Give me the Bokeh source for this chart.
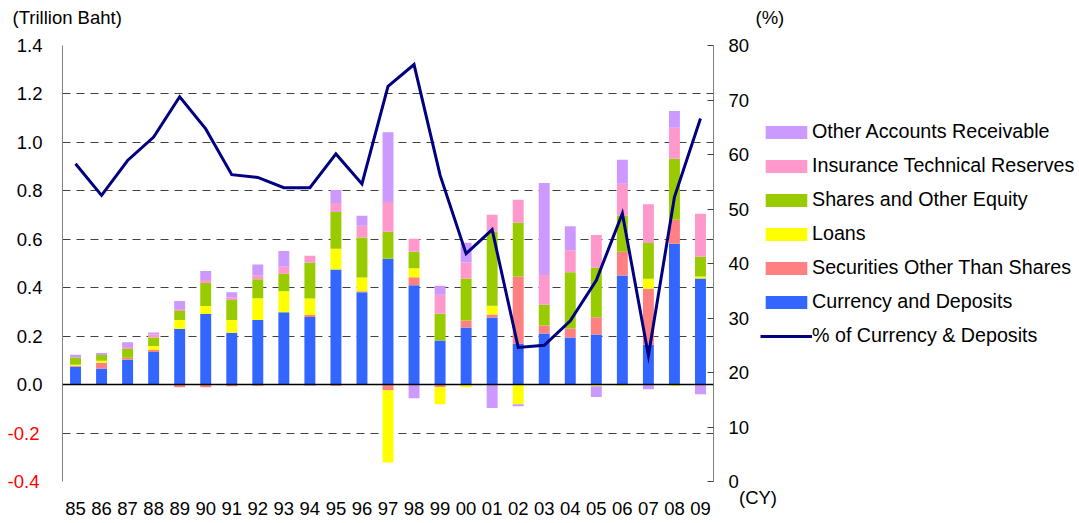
from bokeh.plotting import figure
from bokeh.layouts import row
from bokeh.models import (Range1d, LinearAxis, FixedTicker, Span, Label, Legend,
                          LegendItem, ColumnDataSource, FactorRange, NumeralTickFormatter)
from bokeh.embed import file_html
from bokeh.resources import INLINE

years = ["85", "86", "87", "88", "89", "90", "91", "92", "93", "94", "95", "96", "97",
         "98", "99", "00", "01", "02", "03", "04", "05", "06", "07", "08", "09"]

currency = [0.074, 0.066, 0.103, 0.135, 0.230, 0.292, 0.214, 0.267, 0.299, 0.279, 0.475, 0.381, 0.520,
            0.410, 0.182, 0.236, 0.277, 0.170, 0.211, 0.195, 0.207, 0.450, 0.166, 0.582, 0.438]
securities = [0.004, 0.024, 0.008, 0.008, -0.011, -0.011, -0.007, -0.005, 0.0, 0.008, -0.005, 0.004, -0.023,
              0.033, -0.011, 0.029, 0.012, 0.276, 0.033, 0.037, 0.071, 0.099, 0.230, 0.099, 0.0]
loans = [0.004, 0.008, 0.0, 0.016, 0.037, 0.033, 0.053, 0.090, 0.086, 0.069, 0.086, 0.057, -0.299,
         0.037, -0.070, -0.011, 0.037, -0.081, 0.0, 0.0, -0.007, -0.004, 0.041, -0.005, 0.008]
shares = [0.030, 0.024, 0.036, 0.036, 0.037, 0.095, 0.082, 0.078, 0.073, 0.147, 0.152, 0.165, 0.111,
          0.069, 0.111, 0.173, 0.305, 0.222, 0.086, 0.232, 0.204, 0.148, 0.148, 0.251, 0.082]
insurance = [0.0, 0.0, 0.008, 0.012, 0.008, 0.012, 0.012, 0.016, 0.029, 0.029, 0.037, 0.049, 0.123,
             0.053, 0.078, 0.066, 0.070, 0.095, 0.123, 0.091, 0.136, 0.132, 0.160, 0.128, 0.177]
other = [0.011, 0.008, 0.020, 0.008, 0.033, 0.037, 0.020, 0.045, 0.065, -0.005, 0.053, 0.041, 0.288,
         -0.056, 0.037, 0.082, -0.097, -0.008, 0.379, 0.099, -0.044, 0.099, -0.019, 0.070, -0.040]
pct_currency = [58.3, 52.5, 58.9, 63.2, 70.6, 64.7, 56.3, 55.8, 53.9, 53.9, 60.1, 54.6, 72.5,
                76.5, 56.2, 41.8, 46.2, 24.6, 25.0, 29.5, 36.9, 49.2, 23.1, 52.2, 66.6]

left_ticks = [0.0, 0.2, 0.4, 0.6, 0.8, 1.0, 1.2, 1.4]
neg_ticks = [-0.4, -0.2]
grid_ticks = [-0.4, -0.2, 0.0, 0.2, 0.4, 0.6, 0.8, 1.0, 1.2, 1.4]
right_ticks = [0, 10, 20, 30, 40, 50, 60, 70, 80]

series = [
    ("Currency and Deposits", currency, "#3366FF"),
    ("Securities Other Than Shares", securities, "#FF8080"),
    ("Loans", loans, "#FFFF00"),
    ("Shares and Other Equity", shares, "#99CC00"),
    ("Insurance Technical Reserves", insurance, "#FF99CC"),
    ("Other Accounts Receivable", other, "#CC99FF"),
]
line_name = "% of Currency & Deposits"
line_color = "#000080"

FONT = "Liberation Sans"
FS = "18.5px"

# ---------------- main chart ----------------
p = figure(x_range=FactorRange(factors=years, range_padding=0),
           y_range=Range1d(-0.4, 1.4),
           frame_width=651, frame_height=436,
           min_border_left=62, min_border_top=45, min_border_right=36, min_border_bottom=42,
           output_backend="svg", toolbar_location=None)
p.extra_y_ranges = {"pct": Range1d(0, 80)}
p.outline_line_color = None

pos = [0.0] * len(years)
neg = [0.0] * len(years)
for name, vals, color in series:
    bottoms, tops = [], []
    for i, v in enumerate(vals):
        if v >= 0:
            bottoms.append(pos[i]); tops.append(pos[i] + v); pos[i] += v
        else:
            tops.append(neg[i]); bottoms.append(neg[i] + v); neg[i] += v
    src = ColumnDataSource(dict(x=years, bottom=bottoms, top=tops))
    p.vbar(x="x", bottom="bottom", top="top", width=0.42, source=src,
           fill_color=color, line_color=None)

p.add_layout(Span(location=0, dimension="width", line_color="black", line_width=1.5))

p.line(x=years, y=pct_currency, y_range_name="pct", line_color=line_color,
       line_width=3, line_join="miter")

xa = p.xaxis[0]
xa.axis_line_color = None
xa.major_tick_line_color = None
xa.minor_tick_line_color = None
xa.major_label_standoff = 14
xa.major_label_text_font = FONT
xa.major_label_text_font_size = FS
xa.major_label_text_color = "black"

ya = p.yaxis[0]
ya.ticker = FixedTicker(ticks=left_ticks)
ya.formatter = NumeralTickFormatter(format="0.0")
ya.axis_line_color = "#808080"
ya.major_tick_line_color = None
ya.minor_tick_line_color = None
ya.major_tick_out = 0
ya.major_label_standoff = 20
ya.major_label_text_font = FONT
ya.major_label_text_font_size = FS
ya.major_label_text_color = "black"

# red labels for the negative ticks (outer left axis pulled back under the first one)
ya_neg = LinearAxis(ticker=FixedTicker(ticks=neg_ticks), formatter=NumeralTickFormatter(format="0.0"))
ya_neg.axis_line_color = None
ya_neg.major_tick_line_color = None
ya_neg.minor_tick_line_color = None
ya_neg.major_tick_out = 0
ya_neg.major_tick_in = 0
ya_neg.major_label_standoff = -26
ya_neg.major_label_text_font = FONT
ya_neg.major_label_text_font_size = FS
ya_neg.major_label_text_color = "#FF0000"
p.add_layout(ya_neg, "left")

p.xgrid.grid_line_color = None
p.ygrid.ticker = FixedTicker(ticks=grid_ticks)
p.ygrid.grid_line_color = "#404040"
p.ygrid.grid_line_dash = "8 6"
p.ygrid.grid_line_width = 1

ra = LinearAxis(y_range_name="pct", ticker=FixedTicker(ticks=right_ticks))
ra.axis_line_color = "#808080"
ra.major_tick_in = 6
ra.major_tick_out = 0
ra.major_tick_line_color = "#404040"
ra.minor_tick_line_color = None
ra.major_label_standoff = 15
ra.major_label_text_font = FONT
ra.major_label_text_font_size = FS
ra.major_label_text_color = "black"
p.add_layout(ra, "right")

p.add_layout(Label(x=-50, y=28, x_units="screen", y_units="screen", text="(Trillion Baht)",
                   text_align="left", text_baseline="middle", text_color="black",
                   text_font=FONT, text_font_size=FS), "above")

# ---------------- legend panel (transparent, slightly overlapping the main chart) ----------------
q = figure(width=344, height=523, x_range=Range1d(0, 1), y_range=Range1d(0, 1),
           x_axis_location=None, y_axis_location=None,
           min_border_left=0, min_border_right=0, min_border_top=0, min_border_bottom=0,
           output_backend="svg", toolbar_location=None)
q.grid.visible = False
q.outline_line_color = None
q.background_fill_color = None
q.border_fill_color = None
q.margin = (0, 0, 0, -14)
for f in (p, q):
    try:
        f.frame_align = False
    except Exception:
        pass

# legend keys: one off-screen sample per series so that the key glyphs are drawn
items = []
for name, _, color in reversed(series):
    r = q.vbar(x=[5.0], bottom=[5.0], top=[5.0], width=0.1, fill_color=color, line_color=None)
    items.append(LegendItem(label=name, renderers=[r]))
lr = q.line(x=[5.0, 6.0], y=[5.0, 5.0], line_color=line_color, line_width=3)
items.append(LegendItem(label=line_name, renderers=[lr]))

legend = Legend(items=items, location=(22, 176), glyph_width=52, glyph_height=16,
                label_height=22, spacing=11, label_standoff=0, padding=0, margin=0,
                border_line_color=None, background_fill_alpha=0,
                label_text_font=FONT, label_text_font_size="19.7px", label_text_color="black")
q.add_layout(legend)

q.add_layout(Label(x=17, y=506, x_units="screen", y_units="screen", text="(%)",
                   text_align="left", text_baseline="middle", text_color="black",
                   text_font=FONT, text_font_size=FS))
q.add_layout(Label(x=0.5, y=26, x_units="screen", y_units="screen", text="(CY)",
                   text_align="left", text_baseline="middle", text_color="black",
                   text_font=FONT, text_font_size=FS))

layout = row(p, q)
open("out.html", "w").write(file_html(layout, INLINE))
